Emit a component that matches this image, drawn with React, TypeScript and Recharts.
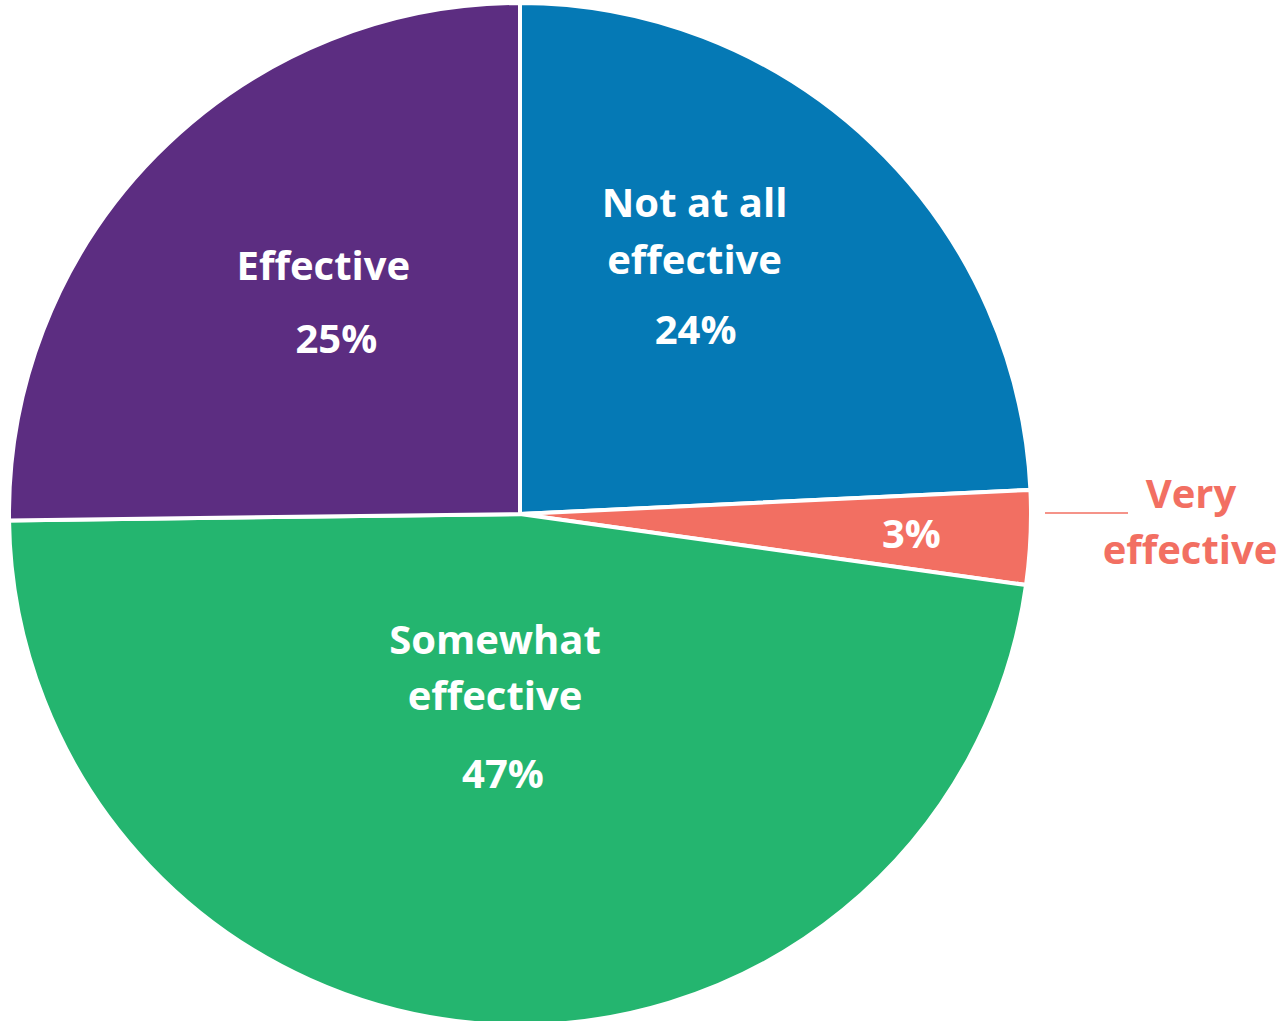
import React from "react";
import { PieChart, Pie, Cell } from "recharts";

const categories = ["Not at all effective", "Very effective", "Somewhat effective", "Effective"];
const nameLines = [["Not at all", "effective"], ["Very", "effective"], ["Somewhat", "effective"], ["Effective"]];
const values = [24.25, 2.97, 47.58, 25.2];
const percentLabels = ["24%", "3%", "47%", "25%"];
const colors = ["#0579B5", "#F26F62", "#24B56F", "#5C2D81"];

const data = categories.map((c, i) => ({ name: c, value: values[i] }));

const RAD = Math.PI / 180;
const FONT = "'Open Sans', 'DejaVu Sans', sans-serif";

// label layout per slice: radius factor, angle tweak, line offsets
const layout = [
  { k: 0.595, da: 8.6, nameY: [-63.5, -6.5], pctY: 63.5, nameDx: 0, pctDx: 1 },
  { k: 0.767, da: -0.3, nameY: [], pctY: -2, nameDx: 0, pctDx: 0 },
  { k: 0.378, da: -2.9, nameY: [-67, -11], pctY: 67, nameDx: -3, pctDx: 5 },
  { k: 0.559, da: -3.5, nameY: [-37], pctY: 36, nameDx: -6, pctDx: 7 },
];

const renderLabel = (props: any) => {
  const { cx, cy, midAngle, outerRadius, index } = props;
  const L = layout[index];
  const r = outerRadius * L.k;
  const a = (midAngle + L.da) * RAD;
  const x = cx + r * Math.cos(a);
  const y = cy - r * Math.sin(a);
  const common = {
    fontFamily: FONT,
    fontWeight: 700,
    fontSize: 40,
    textAnchor: "middle" as const,
    dominantBaseline: "central" as const,
  };
  if (index === 1) {
    const lx1 = cx + outerRadius + 14;
    const lx2 = cx + outerRadius + 97;
    const ly = cy - 1;
    const tx = cx + outerRadius + 159;
    return (
      <g key={`lbl-${index}`}>
        <text x={x} y={y + L.pctY} fill="#ffffff" {...common}>{percentLabels[index]}</text>
        <line x1={lx1} y1={ly} x2={lx2} y2={ly} stroke={colors[1]} strokeWidth={1.5} />
        <text x={tx + 1} y={ly - 21} fill={colors[1]} {...common}>{nameLines[1][0]}</text>
        <text x={tx} y={ly + 35} fill={colors[1]} {...common}>{nameLines[1][1]}</text>
      </g>
    );
  }
  return (
    <g key={`lbl-${index}`}>
      {nameLines[index].map((t, j) => (
        <text key={j} x={x + L.nameDx} y={y + L.nameY[j]} fill="#ffffff" {...common}>{t}</text>
      ))}
      <text x={x + L.pctDx} y={y + L.pctY} fill="#ffffff" {...common}>{percentLabels[index]}</text>
    </g>
  );
};

export default function App() {
  return (
    <div style={{ position: "absolute", left: 0, top: 0, width: 1285, height: 1021, background: "#ffffff" }}>
      <PieChart width={1285} height={1021} margin={{ top: 0, right: 0, bottom: 0, left: 0 }}>
        <Pie
          data={data}
          dataKey="value"
          nameKey="name"
          cx={520}
          cy={514}
          innerRadius={0}
          outerRadius={511}
          startAngle={90}
          endAngle={-270}
          stroke="#ffffff"
          strokeWidth={4}
          label={renderLabel}
          labelLine={false}
          isAnimationActive={false}
        >
          {data.map((d, i) => (
            <Cell key={d.name} fill={colors[i]} />
          ))}
        </Pie>
      </PieChart>
    </div>
  );
}
